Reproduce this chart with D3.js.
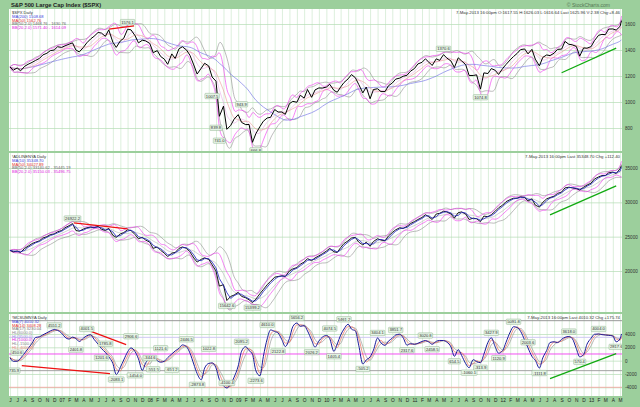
<!DOCTYPE html>
<html>
<head>
<meta charset="utf-8">
<script src="https://cdnjs.cloudflare.com/ajax/libs/d3/7.8.5/d3.min.js"></script>
<style>
body { margin: 0; background: #fff; }
svg { display: block; font-family: "Liberation Sans", Arial, sans-serif; }
.grid line { stroke: #cde8cd; stroke-width: 0.7; }
.grid path, .hgrid path, .yax path, .xax path { display: none; }
.hgrid line { stroke: #b5dcb5; stroke-width: 0.7; }
.yax text { font-size: 4.6px; fill: #333; }
.xax text { font-size: 4.8px; fill: #222; }
.legend text { font-size: 4.1px; }
.info { font-size: 4.3px; fill: #333; }
.lbl rect { fill: #e4f3e4; stroke: #6f9a6f; stroke-width: 0.35; }
.lbl text { font-size: 4.1px; fill: #333; }
</style>
</head>
<body>
<div id="chart"></div>
<script>
var w = 640, h = 407
var left = 9, right = 622

// sample dates: 1st and 15th of each month, Jun 2006 .. 7 May 2013
var months = d3.timeMonth.range(new Date(2006, 5, 1), new Date(2013, 4, 2))
var dates = []
months.forEach(function(m) {
  dates.push(m)
  dates.push(new Date(m.getFullYear(), m.getMonth(), 15))
})
dates = dates.filter(function(d) { return d < new Date(2013, 4, 7) })
dates.push(new Date(2013, 4, 7))

// S&P 500 ($SPX)
var spx = [
  1270, 1245, 1262, 1240, 1275, 1290, 1305, 1320, 1335, 1362, 1375, 1395, 1400, 1425,
  1420, 1432, 1445, 1455, 1400, 1385, 1420, 1455, 1485, 1505, 1535, 1530, 1505, 1555, 1460, 1420, 1470, 1490, 1560, 1555, 1510, 1455, 1475, 1470,
  1450, 1380, 1395, 1350, 1330, 1290, 1370, 1335, 1410, 1425, 1400, 1360, 1285, 1215, 1260, 1298, 1277, 1192, 1160, 890, 968, 790, 820, 868,
  903, 843, 826, 827, 690, 756, 811, 852, 877, 882, 942, 923, 923, 905, 987, 1005, 998, 1052, 1030, 1096, 1036, 1093, 1108, 1107,
  1115, 1136, 1090, 1075, 1115, 1150, 1178, 1211, 1187, 1135, 1070, 1115, 1025, 1096, 1102, 1080, 1080, 1125, 1146, 1176, 1184, 1198, 1206, 1236,
  1258, 1293, 1305, 1332, 1307, 1281, 1332, 1320, 1364, 1338, 1315, 1265, 1340, 1316, 1287, 1204, 1204, 1209, 1099, 1224, 1219, 1257, 1244, 1212,
  1258, 1289, 1324, 1350, 1374, 1403, 1408, 1370, 1405, 1330, 1278, 1343, 1362, 1357, 1376, 1405, 1407, 1466, 1444, 1440, 1427, 1353, 1416, 1414,
  1426, 1472, 1513, 1520, 1518, 1561, 1562, 1553, 1582, 1625.96
]

// NYSE cumulative advance-decline line
var adLine = [
  23000, 22800, 22900, 22700, 23300, 23600, 24000, 24200, 24400, 24800, 25000, 25300, 25400, 25700,
  25900, 26300, 26600, 26900, 25900, 25800, 26100, 26300, 26400, 26300, 26500, 26100, 25900, 26200, 25200, 24900, 25400, 25600, 26000, 25900, 25300, 24700, 24900, 24500,
  24200, 23300, 23500, 23000, 22600, 22100, 22600, 22700, 23300, 23500, 23300, 22800, 21900, 21300, 21700, 21900, 21700, 20900, 20000, 17800, 18000, 15700, 16300, 16500,
  16900, 16300, 16100, 15800, 15400, 15900, 16700, 17300, 18000, 18500, 19100, 19200, 19300, 19200, 20000, 20300, 20500, 21000, 21300, 21800, 21500, 21900, 22200, 22500,
  22900, 23300, 22800, 22700, 23400, 24000, 24400, 24800, 24900, 24200, 23800, 24200, 23600, 24300, 24700, 24500, 24400, 25100, 25600, 26000, 26300, 26200, 26500, 26900,
  27200, 27500, 27800, 28200, 27900, 27500, 28300, 28400, 28700, 28600, 28300, 27700, 28500, 28600, 28300, 27500, 27700, 27600, 27200, 28000, 27900, 28200, 28700, 29200,
  29600, 30100, 30400, 30600, 30600, 30800, 30700, 30200, 30500, 29600, 29300, 30000, 30500, 30700, 30900, 31300, 31500, 32100, 32200, 32100, 32000, 31800, 32200, 32500,
  32800, 33400, 33700, 33900, 33900, 34300, 34400, 34200, 34900, 35348.70
]

// McClellan summation (NYSE)
var mcSum = [
  450, -100, -80, 360, 1140, 1810, 2640, 3480, 3580, 3870, 4180, 4460, 4660, 4550,
  4130, 3520, 3240, 3530, 3320, 2870, 3380, 3730, 3900, 3210, 2480, 1810, 1240, 590, -420, -2080, -1000, 100, 1310, 1910, 1350, 270, -1450, -330,
  300, 560, 0, -230, -90, 450, 1000, 1460, 1850, 2360, 2090, 1160, -520, -1940, -2870, -1120, -420, -340, -1080, -2850, -3780, -4100, -3510, -2490,
  -800, 1420, 2095, 1520, 960, -1500, -2270, 600, 3260, 4610, 4380, 4150, 3130, 2120, 3320, 5100, 5650, 5150, 5250, 4460, 3080, 2030, 2950, 3510,
  3790, 3300, 1400, 2500, 3830, 4750, 5460, 4730, 4470, 2330, -505, 100, 560, 1580, 3400, 2670, 2300, 2930, 3370, 3850, 3970, 3420, 2320, 2550,
  2460, 2610, 2880, 3020, 2800, 2460, 2900, 3030, 3020, 2780, 2050, 650, 1650, 780, -460, -1060, 140, -130, -310, 960, 2750, 3430, 2080, 1120,
  1520, 2770, 4290, 5090, 4980, 4410, 3080, 1910, 640, 60, -1110, 410, 1530, 2720, 2830, 2710, 3200, 3500, 3620, 3320, 1800, 570, 900, 2460,
  3360, 3960, 4004, 3900, 3850, 3800, 3700, 2820, 3300, 4010.32
]

var spxTicks = [800, 1000, 1200, 1400, 1600]
var adTicks = [20000, 25000, 30000, 35000]
var mcTicks = [-4000, -2000, 0, 2000, 4000]
var hlLevels = [6000, 3500, 1000, -1500, -4000]
var hlColors = ['#8c8c8c', '#c9c2f2', '#f03cf0', '#9a9a9a', '#f2a8a0']

// annotation boxes: [sample index, text, -1 above / 1 below]
var spxLabels = [[32, '1576.1', -1], [55, '1007.5', -1], [63, '943.9', -1], [56, '839.8', 1],
  [57, '741.0', 1], [67, '666.8', 1], [118, '1370.6', -1], [128, '1074.8', 1]]
var adLabels = [[17, '26922.2', -1], [59, '15642.6', 1], [66, '15399.2', 1]]
var mcLabels = [[12, '4551.2', -1], [21, '4001.5', -1], [18, '2401.8', 1], [26, '1785.8', -1], [25, '1201.6', 1],
  [33, '2906.6', -1], [2, '450.6', -1], [1, '-735.9', 1], [29, '-2083.1', 1], [38, '-344.6', -1], [34, '-1454.0', 1],
  [39, '-551.5', 1], [44, '-651.2', 1], [41, '1121.6', -1], [48, '2446.5', -1], [51, '-2873.8', 1], [54, '1022.8', -1],
  [59, '-4100.4', -1], [63, '2095.2', -1], [67, '-2273.6', 1], [70, '4610.0', -1], [73, '2122.8', 1], [78, '5656.2', -1],
  [82, '2026.2', 1], [87, '4074.5', -1], [88, '1405.4', 1], [91, '5461.2', -1], [96, '-505.2', 1], [100, '3404.1', -1],
  [105, '3851.7', -1], [108, '2317.6', 1], [113, '3020.8', -1], [115, '2458.5', 1], [121, '654.5', 1], [125, '-1060.1', 1],
  [128, '-313.9', 1], [131, '3427.9', -1], [133, '1120.9', 1], [137, '5091.8', -1], [141, '2003.6', -1], [144, '-1111.8', 1],
  [152, '3618.0', -1], [155, '570.4', 1], [160, '4004.0', -1], [165, '2817.6', 1]]

// trend lines: [[date, value], [date, value]]
var spxRed = [['2007-07-16', 1560], ['2007-10-28', 1585]]
var spxGreen = [['2012-09-01', 1225], ['2013-04-15', 1415]]
var adRed = [['2007-02-20', 27000], ['2007-10-01', 26120]]
var adGreen = [['2012-07-15', 28160], ['2013-04-15', 32390]]
var mcRed = [[['2006-07-20', -750], ['2007-07-20', -1950]], [['2007-05-05', 4360], ['2007-09-25', 2400]]]
var mcGreen = [['2012-07-15', -2700], ['2013-04-15', 1050]]

var spxLegend = ['$SPX Daily', 'MA(200) 1508.68', 'MA(50) 1562.76', 'BB(50,2.0) 1468.76 - 1630.76', 'BB(20,2.0) 1571.40 - 1614.09']
var adLegend = ['!ADLINENYA Daily', 'MA(10) 35348.70', 'MA(50) 34027.89', 'BB(50,2.0) 33140.62 - 35445.19', 'BB(20,2.0) 35150.03 - 35496.75']
var mcLegend = ['!MCSUMNYA Daily', 'MA(7) 4010.32', 'MA(14) 3408.28', 'MA(17) 3230.04', 'HL(6000.0)', 'HL(3500.0)', 'HL(1000.0)', 'HL(-1500.0)', 'HL(-4000.0)']

var parse = d3.timeParse('%Y-%m-%d')

var x = d3.scaleTime().domain([new Date(2006, 4, 28), new Date(2013, 4, 9)]).range([left, right])
var monthTicks = d3.timeMonth.range(new Date(2006, 5, 1), new Date(2013, 4, 8))

var svg = d3.select('#chart').append('svg').attr('width', w).attr('height', h)
svg.append('rect').attr('width', w).attr('height', h).attr('fill', '#9ccf9c')

function rolling(vals, n, fn) {
  return vals.map(function(v, i) { return fn(vals.slice(Math.max(0, i - n + 1), i + 1)) })
}
function sd(a) { return a.length > 1 ? d3.deviation(a) : 0 }
function bands(vals, n) {
  var mid = rolling(vals, n, d3.mean), dev = rolling(vals, n, sd)
  return {
    mid: mid,
    up: mid.map(function(m, i) { return m + 2 * dev[i] }),
    lo: mid.map(function(m, i) { return m - 2 * dev[i] })
  }
}

function panel(id, top, bottom, y, ticks) {
  svg.append('rect').attr('x', left).attr('y', top).attr('width', right - left).attr('height', bottom - top).attr('fill', '#fff')
  svg.append('g').attr('class', 'grid').attr('transform', 'translate(0,' + bottom + ')')
    .call(d3.axisBottom(x).tickValues(monthTicks).tickSize(-(bottom - top)).tickFormat(''))
  svg.append('g').attr('class', 'hgrid').attr('transform', 'translate(' + left + ',0)')
    .call(d3.axisLeft(y).tickValues(ticks).tickSize(-(right - left)).tickFormat(''))
  svg.append('g').attr('class', 'yax').attr('transform', 'translate(' + right + ',0)')
    .call(d3.axisRight(y).tickValues(ticks).tickSize(0).tickPadding(3).tickFormat(String))
  svg.append('clipPath').attr('id', id).append('rect')
    .attr('x', left).attr('y', top).attr('width', right - left).attr('height', bottom - top)
  return svg.append('g').attr('clip-path', 'url(#' + id + ')')
}

function drawLine(g, y, vals, color, width, curve) {
  g.append('path').datum(vals)
    .attr('fill', 'none').attr('stroke', color).attr('stroke-width', width)
    .attr('stroke-linejoin', 'round')
    .attr('d', d3.line()
      .x(function(d, i) { return x(dates[i]) })
      .y(function(d) { return y(d) })
      .curve(curve || d3.curveLinear))
}

function trend(g, y, seg, color) {
  g.append('line')
    .attr('x1', x(parse(seg[0][0]))).attr('y1', y(seg[0][1]))
    .attr('x2', x(parse(seg[1][0]))).attr('y2', y(seg[1][1]))
    .attr('stroke', color).attr('stroke-width', 1.3)
}

function labels(g, y, list) {
  list.forEach(function(l) {
    var cx = x(dates[l[0]]), cy = y(+l[1]) + l[2] * 5
    var lg = g.append('g').attr('class', 'lbl')
    var t = lg.append('text').attr('x', cx).attr('y', cy).attr('dy', '0.36em')
      .attr('text-anchor', 'middle').text(l[1])
    var bw = t.node().getComputedTextLength() + 2
    lg.insert('rect', 'text').attr('x', cx - bw / 2).attr('y', cy - 2.7)
      .attr('width', bw).attr('height', 5.4).attr('rx', 0.8)
  })
}

function legend(top, lines, colors) {
  var g = svg.append('g').attr('class', 'legend')
  lines.forEach(function(t, i) {
    g.append('text').attr('x', left + 3).attr('y', top + 5.2 + i * 3.7).attr('fill', colors[i]).text(t)
  })
}

function info(top, txt) {
  svg.append('text').attr('class', 'info').attr('x', right - 2).attr('y', top + 4.5)
    .attr('text-anchor', 'end').text(txt)
}

// ---------- panel 1: $SPX ----------
var y1 = d3.scaleLinear().domain([800, 1600]).range([128, 24])
var p1 = panel('c1', 9, 151, y1, spxTicks)
var bb50 = bands(spx, 5), bb20 = bands(spx, 3)
drawLine(p1, y1, bb50.up, '#8f8f8f', 0.6, d3.curveBasis)
drawLine(p1, y1, bb50.lo, '#8f8f8f', 0.6, d3.curveBasis)
drawLine(p1, y1, bb20.up, '#ee33ee', 0.6, d3.curveBasis)
drawLine(p1, y1, bb20.lo, '#ee33ee', 0.6, d3.curveBasis)
drawLine(p1, y1, bb20.mid, '#e59ae5', 0.5, d3.curveBasis)
drawLine(p1, y1, rolling(spx, 19, d3.mean), '#7d7de6', 0.7, d3.curveBasis)
drawLine(p1, y1, bb50.mid, '#e88080', 0.5, d3.curveBasis)
drawLine(p1, y1, spx, '#000', 1)
trend(p1, y1, spxRed, '#ee1111')
trend(p1, y1, spxGreen, '#11aa11')
labels(p1, y1, spxLabels)
legend(9, spxLegend, ['#333', '#4040e0', '#e03030', '#666', '#e020e0'])
info(9, '7-May-2013 16:00pm   O:1617.55  H:1626.03  L:1616.64  Last 1625.96  V:2.38  Chg:+8.46')

// ---------- panel 2: A/D line ----------
var y2 = d3.scaleLinear().domain([20000, 35000]).range([271, 168])
var p2 = panel('c2', 153, 312, y2, adTicks)
var ad50 = bands(adLine, 5), ad20 = bands(adLine, 3)
drawLine(p2, y2, ad50.up, '#8f8f8f', 0.6, d3.curveBasis)
drawLine(p2, y2, ad50.lo, '#8f8f8f', 0.6, d3.curveBasis)
drawLine(p2, y2, ad50.mid, '#a8a8a8', 0.5, d3.curveBasis)
drawLine(p2, y2, ad20.up, '#ee33ee', 0.6, d3.curveBasis)
drawLine(p2, y2, ad20.lo, '#ee33ee', 0.6, d3.curveBasis)
drawLine(p2, y2, adLine, '#000', 0.9)
drawLine(p2, y2, rolling(adLine, 2, d3.mean), '#2020c0', 0.8)
trend(p2, y2, adRed, '#ee1111')
trend(p2, y2, adGreen, '#11aa11')
labels(p2, y2, adLabels)
legend(153, adLegend, ['#333', '#4040e0', '#e03030', '#666', '#e020e0'])
info(153, '7-May-2013 16:00pm   Last 35348.70  Chg +112.40')

// ---------- panel 3: summation ----------
var y3 = d3.scaleLinear().domain([-4000, 4000]).range([387.3, 334])
var p3 = panel('c3', 314, 396, y3, mcTicks)
hlLevels.forEach(function(v, i) {
  p3.append('line').attr('x1', left).attr('x2', right).attr('y1', y3(v)).attr('y2', y3(v))
    .attr('stroke', hlColors[i]).attr('stroke-width', 0.9)
})
drawLine(p3, y3, rolling(mcSum, 3, d3.mean), '#9a9a9a', 0.7, d3.curveMonotoneX)
drawLine(p3, y3, rolling(mcSum, 2, d3.mean), '#ee6a5a', 0.7, d3.curveMonotoneX)
drawLine(p3, y3, mcSum, '#1a1a9a', 1, d3.curveMonotoneX)
mcRed.forEach(function(s) { trend(p3, y3, s, '#ee1111') })
trend(p3, y3, mcGreen, '#11aa11')
labels(p3, y3, mcLabels)
legend(314, mcLegend, ['#333', '#4040e0', '#e03030', '#777', '#888', '#9a8ee0', '#e020e0', '#888', '#e88a80'])
info(314, '7-May-2013 16:00pm   Last 4010.32  Chg +175.74')

// ---------- x axis, title ----------
svg.append('g').attr('class', 'xax').attr('transform', 'translate(0,396)')
  .call(d3.axisBottom(x).tickValues(monthTicks).tickSize(0).tickPadding(2.2)
    .tickFormat(function(d) {
      return d.getMonth() === 0 ? d3.timeFormat('%y')(d) : d3.timeFormat('%b')(d).charAt(0)
    }))

svg.append('text').attr('x', 11).attr('y', 6.8).attr('font-size', 5.8).attr('font-weight', 'bold')
  .attr('fill', '#222').text('S&P 500 Large Cap Index ($SPX)')
svg.append('text').attr('x', 610).attr('y', 6.8).attr('font-size', 5).attr('text-anchor', 'end')
  .attr('fill', '#557755').text('© StockCharts.com')
</script>
</body>
</html>
